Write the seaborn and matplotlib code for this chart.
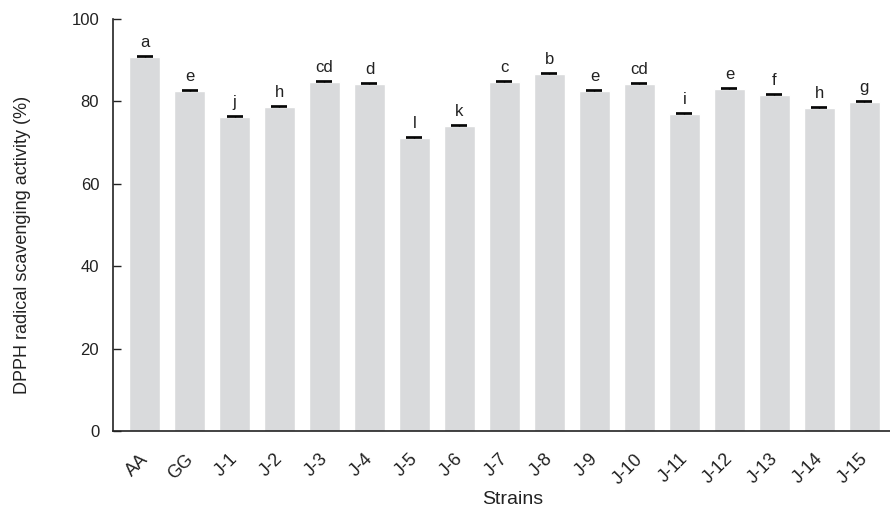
import matplotlib
matplotlib.use("Agg")
import matplotlib.pyplot as plt
from matplotlib.transforms import ScaledTranslation
import seaborn as sns
import pandas as pd

strains = ["AA", "GG", "J-1", "J-2", "J-3", "J-4", "J-5", "J-6", "J-7", "J-8",
           "J-9", "J-10", "J-11", "J-12", "J-13", "J-14", "J-15"]
activity = [90.7, 82.5, 76.2, 78.5, 84.6, 84.1, 71.1, 73.9, 84.7, 86.5,
            82.6, 84.3, 76.9, 83.0, 81.5, 78.3, 79.8]
sd = [0.35, 0.3, 0.2, 0.25, 0.2, 0.25, 0.15, 0.25, 0.2, 0.3,
      0.2, 0.2, 0.25, 0.3, 0.2, 0.2, 0.15]
letters = ["a", "e", "j", "h", "cd", "d", "l", "k", "c", "b",
           "e", "cd", "i", "e", "f", "h", "g"]

df = pd.DataFrame({"Strain": strains, "Activity": activity, "SD": sd})

sns.set_theme(style="white")
plt.rcParams["font.family"] = ["Liberation Sans", "DejaVu Sans"]

ink = "#222222"
fig = plt.figure(figsize=(8.9, 5.22), dpi=100)
ax = fig.add_axes([0.127, 0.174, 0.873, 0.79])

sns.barplot(data=df, x="Strain", y="Activity", color="#d9dadc",
            width=0.69, errorbar=None, ax=ax, saturation=1)
# upper-only error bars
ax.errorbar(range(len(strains)), df["Activity"],
            yerr=[[0] * len(sd), df["SD"]], fmt="none",
            ecolor="black", elinewidth=1, capsize=5.5, capthick=1.2)

for i, (v, e, t) in enumerate(zip(activity, sd, letters)):
    ax.text(i, v + e + 2.2, t, ha="center", va="baseline", fontsize=12,
            color=ink)

ax.set_xlim(-0.7, 16.57)
ax.set_ylim(0, 100)
ax.set_yticks([0, 20, 40, 60, 80, 100])
ax.tick_params(axis="y", direction="in", length=6, width=1, labelsize=12,
               left=True, pad=10, colors=ink)
ax.tick_params(axis="x", length=0, labelsize=13, pad=14, colors=ink)
shift = ScaledTranslation(-5 / 100, 0, fig.dpi_scale_trans)
for lab in ax.get_xticklabels():
    lab.set_rotation(45)
    lab.set_ha("right")
    lab.set_rotation_mode("anchor")
    lab.set_transform(lab.get_transform() + shift)

for side in ["top", "right"]:
    ax.spines[side].set_visible(False)
for side in ["left", "bottom"]:
    ax.spines[side].set_color(ink)
    ax.spines[side].set_linewidth(1.2)

ax.set_xlabel("Strains", fontsize=14, color=ink)
ax.set_ylabel("DPPH radical scavenging activity (%)", fontsize=13, color=ink)
ax.xaxis.set_label_coords(0.514, -0.146)
ax.yaxis.set_label_coords(-0.105, 0.451)

fig.savefig("out.png", dpi=100)
